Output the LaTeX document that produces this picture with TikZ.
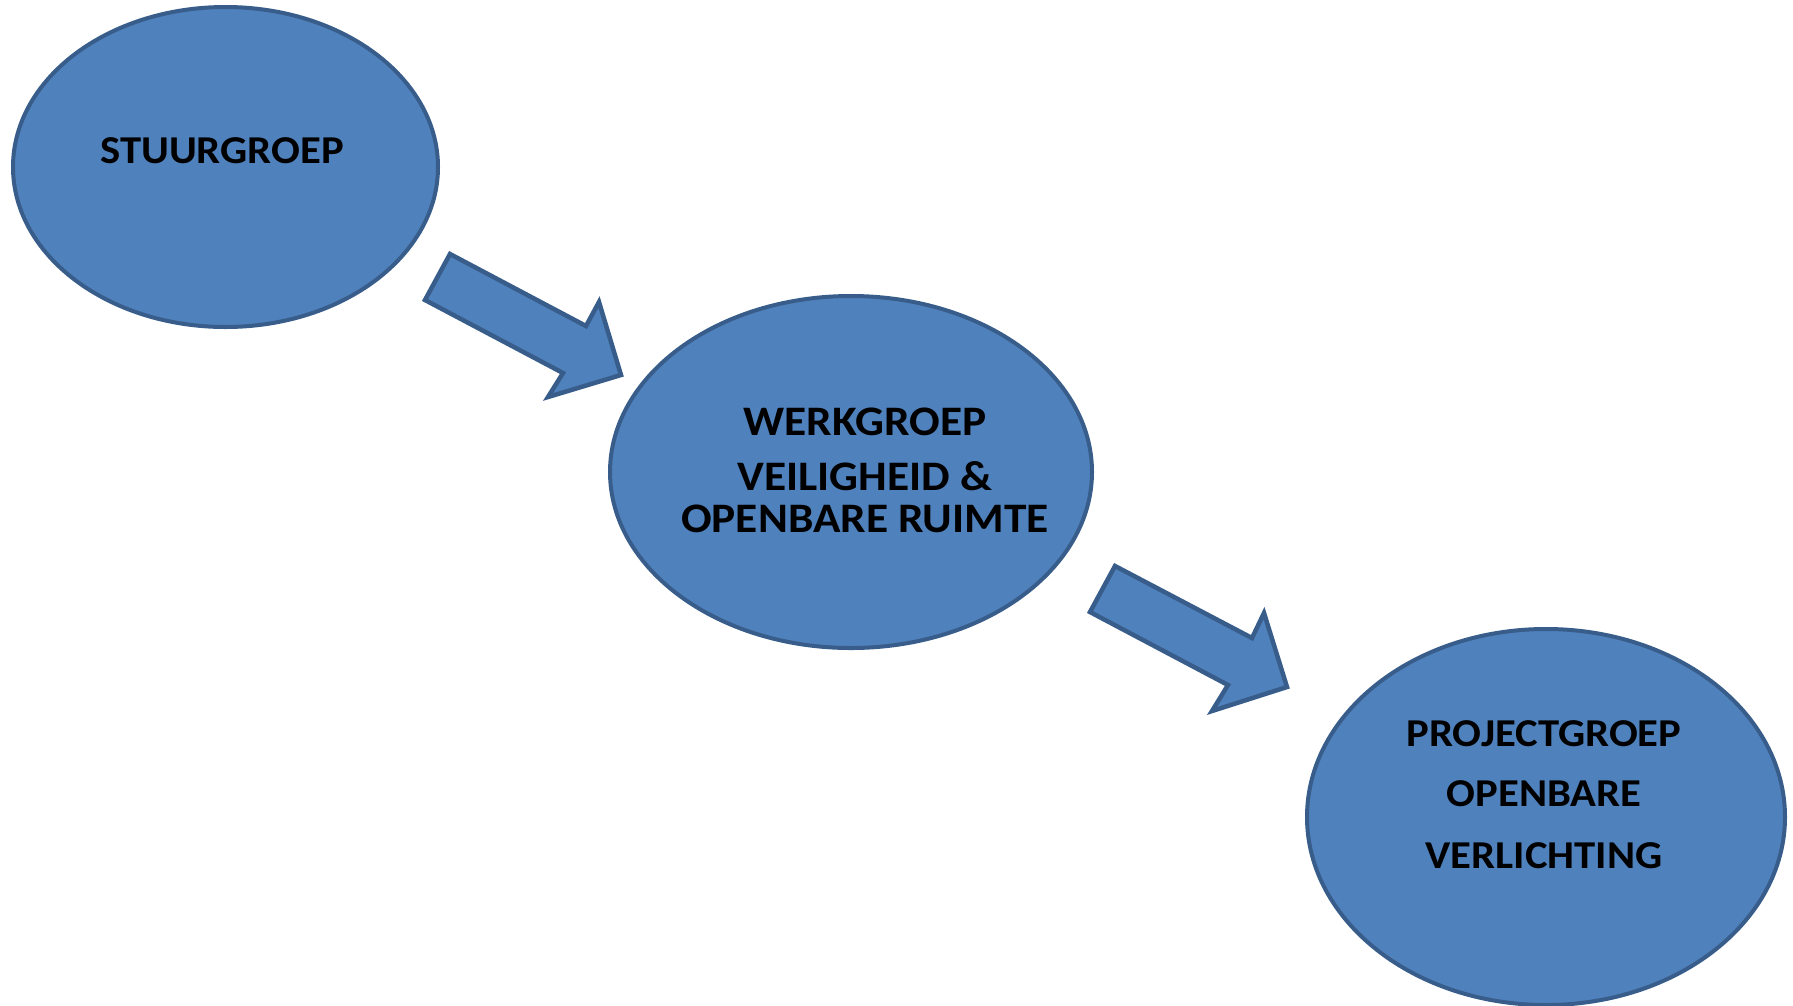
\documentclass[tikz,border=0pt]{standalone}
\usepackage{fontspec}
\setmainfont{Carlito}[FakeStretch=1.08]
\usetikzlibrary{shapes.geometric}
\definecolor{bluefill}{HTML}{4F81BD}
\definecolor{blueline}{HTML}{385D8A}
\tikzset{
  group/.style={ellipse, draw=blueline, fill=bluefill, line width=4pt, inner sep=0pt},
  blockarrow/.style={draw=blueline, fill=bluefill, line width=4.5pt, line join=miter},
  lbl/.style={anchor=base, inner sep=0pt, font=\fontsize{39.5}{48}\selectfont\bfseries, text=black},
  lblbig/.style={lbl, font=\fontsize{42}{50}\selectfont\bfseries}
}
\begin{document}
\begin{tikzpicture}[x=1pt,y=-1pt]
\useasboundingbox (0,0) rectangle (1793,1005);
% ellipses
\node[group, minimum width=425pt, minimum height=320pt] (e1) at (225.5,167) {};
\node[group, minimum width=482pt, minimum height=352pt] (e2) at (851,472) {};
\node[group, minimum width=478pt, minimum height=376pt] (e3) at (1546,817) {};
% labels
\node[lbl] (t1) at (222,163) {STUURGROEP};
\node[lblbig] (t2a) at (865,435) {WERKGROEP};
\node[lblbig] (t2b) at (865,490) {VEILIGHEID \&};
\node[lblbig] (t2c) at (865,532) {OPENBARE RUIMTE};
\node[lbl] (t3a) at (1544,746) {PROJECTGROEP};
\node[lbl] (t3b) at (1544,806) {OPENBARE};
\node[lbl] (t3c) at (1544,868) {VERLICHTING};
% block arrows
\draw[blockarrow] (450,254) -- (425,300) -- (563,373) -- (548,397) -- (621,375) -- (599,302) -- (586,326) -- cycle;
\draw[blockarrow] (1115,566) -- (1090,612) -- (1228,685) -- (1212,711) -- (1287,687) -- (1264,613) -- (1252,638) -- cycle;
\end{tikzpicture}
\end{document}
